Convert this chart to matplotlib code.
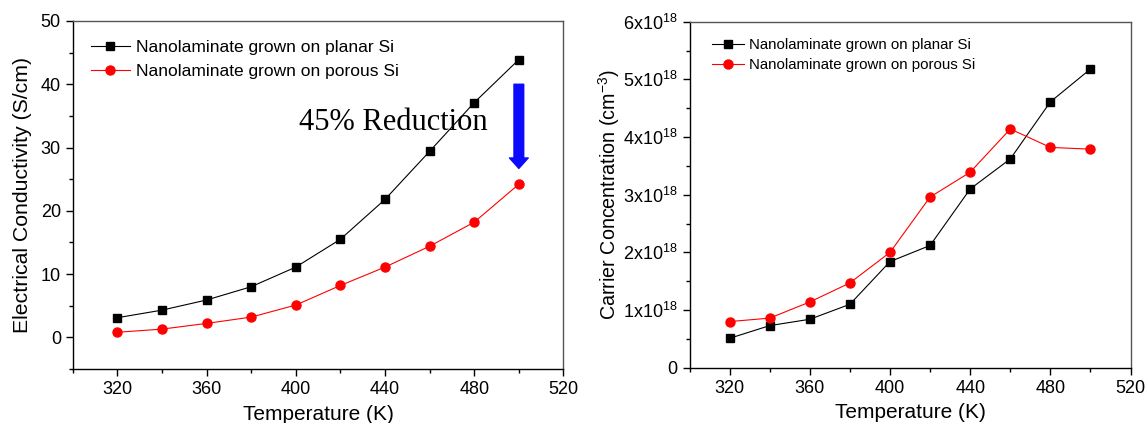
import matplotlib
matplotlib.use("Agg")
import matplotlib.pyplot as plt
from matplotlib.ticker import MultipleLocator, FuncFormatter

plt.rcParams['font.family'] = ['Liberation Sans', 'DejaVu Sans']
plt.rcParams['mathtext.fontset'] = 'custom'
plt.rcParams['mathtext.rm'] = 'Liberation Sans'
plt.rcParams['mathtext.it'] = 'Liberation Sans:italic'

# Measurement temperatures (K)
temperature = [320, 340, 360, 380, 400, 420, 440, 460, 480, 500]

# Electrical conductivity (S/cm)
cond_planar = [3.1, 4.3, 5.9, 8.0, 11.1, 15.5, 21.8, 29.4, 37.1, 43.9]
cond_porous = [0.8, 1.3, 2.2, 3.2, 5.1, 8.2, 11.1, 14.4, 18.2, 24.2]

# Carrier concentration (units of 1e18 cm^-3)
conc_planar = [0.51, 0.73, 0.84, 1.10, 1.84, 2.12, 3.10, 3.62, 4.61, 5.18]
conc_porous = [0.80, 0.86, 1.14, 1.47, 2.00, 2.96, 3.39, 4.14, 3.82, 3.79]

label_planar = "Nanolaminate grown on planar Si"
label_porous = "Nanolaminate grown on porous Si"
reduction_text = "45% Reduction"
x_ticks = [320, 360, 400, 440, 480, 520]

fig = plt.figure(figsize=(11.45, 4.23), dpi=100)
ax1 = fig.add_axes([0.0635, 0.1277, 0.4286, 0.8227])
ax2 = fig.add_axes([0.6022, 0.1307, 0.3852, 0.8180])


def style_axes(ax):
    for side in ('left', 'bottom'):
        ax.spines[side].set_color('black')
        ax.spines[side].set_linewidth(1.0)
    for side in ('top', 'right'):
        ax.spines[side].set_color('#555555')
        ax.spines[side].set_linewidth(1.0)
    ax.tick_params(which='both', direction='out', top=False, right=False,
                   width=1.0, colors='black')
    ax.tick_params(which='major', length=5, labelsize=13)
    ax.tick_params(which='minor', length=3)
    ax.set_xlim(300, 520)
    ax.set_xticks(x_ticks)
    ax.xaxis.set_minor_locator(MultipleLocator(20))
    ax.set_xlabel("Temperature (K)", fontsize=15, labelpad=5)


line_kw = dict(linewidth=0.8)

# Conductivity panel
ax1.plot(temperature, cond_planar, color='black', marker='s', markersize=6,
         label=label_planar, **line_kw)
ax1.plot(temperature, cond_porous, color='red', marker='o', markersize=6.5,
         label=label_porous, **line_kw)
style_axes(ax1)
ax1.set_ylim(-5, 50)
ax1.yaxis.set_major_locator(MultipleLocator(10))
ax1.yaxis.set_minor_locator(MultipleLocator(5))
ax1.set_ylabel("Electrical Conductivity (S/cm)", fontsize=15.3, labelpad=6)
ax1.legend(loc='upper left', bbox_to_anchor=(0.037, 0.945), frameon=False,
           fontsize=12.5, handlelength=2.24, handletextpad=0.35,
           labelspacing=0.48, borderaxespad=0, borderpad=0)
ax1.annotate('', xy=(500, 26.7), xytext=(500, 40),
             arrowprops=dict(arrowstyle='simple,head_length=0.75,head_width=1.35,tail_width=0.7',
                             mutation_scale=10, color='#0a0aff', shrinkA=0, shrinkB=0))
ax1.text(401.3, 34.0, reduction_text, fontsize=22, family='Liberation Serif',
         ha='left', va='center')

# Carrier concentration panel
ax2.plot(temperature, conc_planar, color='black', marker='s', markersize=6,
         label=label_planar, **line_kw)
ax2.plot(temperature, conc_porous, color='red', marker='o', markersize=6.5,
         label=label_porous, **line_kw)
style_axes(ax2)
ax2.set_ylim(0, 6)
ax2.yaxis.set_major_locator(MultipleLocator(1))
ax2.yaxis.set_minor_locator(MultipleLocator(0.5))


def sci_label(v, pos):
    n = int(round(v))
    if n == 0:
        return "0"
    return r"$\mathregular{%dx10^{18}}$" % n


ax2.yaxis.set_major_formatter(FuncFormatter(sci_label))
ax2.set_ylabel(r"Carrier Concentration (cm$\mathregular{^{-3}}$)", fontsize=14.2, labelpad=1)
ax2.legend(loc='upper left', bbox_to_anchor=(0.05, 0.953), frameon=False,
           fontsize=10.8, handlelength=2.13, handletextpad=0.38,
           labelspacing=0.4, borderaxespad=0, borderpad=0)

fig.savefig("out.png", dpi=100)
